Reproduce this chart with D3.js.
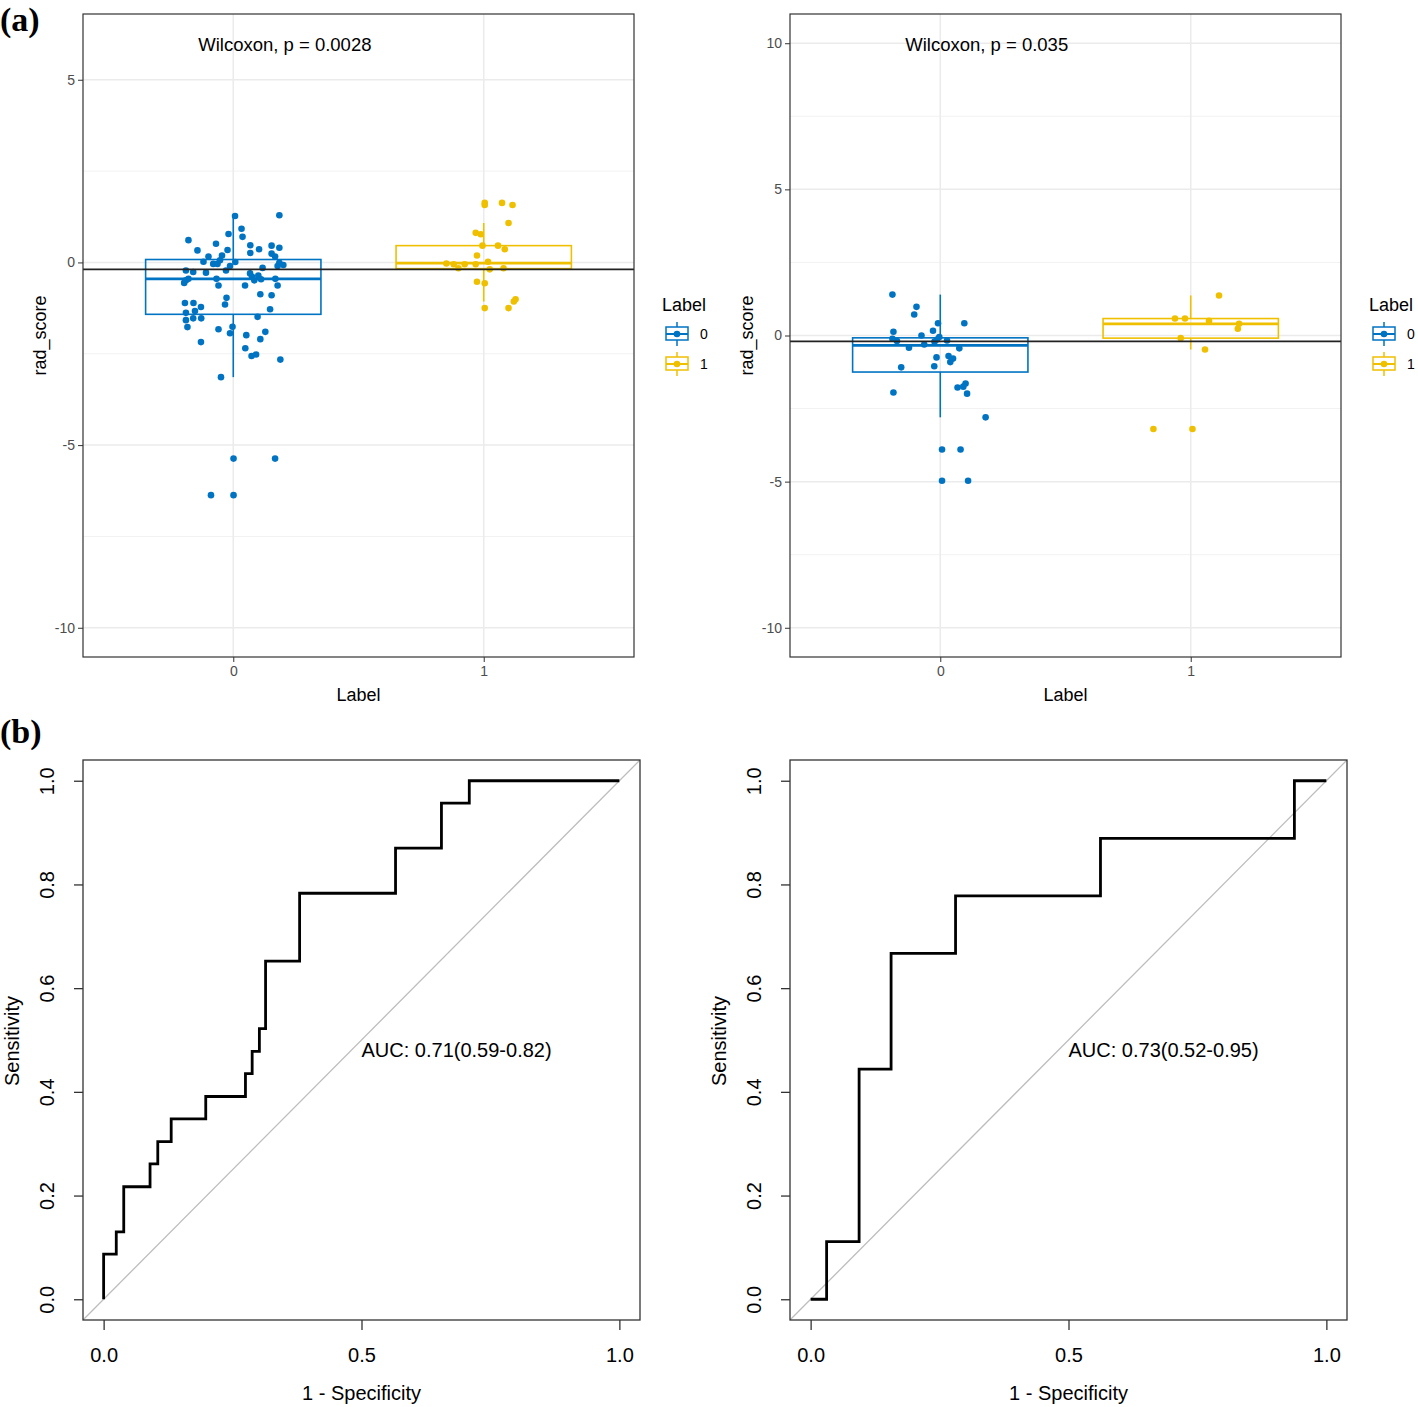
<!DOCTYPE html>
<html><head><meta charset="utf-8">
<script src="https://cdn.jsdelivr.net/npm/d3@7"></script>
<style>body{margin:0;background:#fff} svg{display:block}</style>
</head><body><svg id="c" width="1418" height="1407"></svg>
<script>
// ---------- DATA ----------
const categories = ["0", "1"];
const groupColors = ["#0073C2", "#EFC000"];

// (a) left: training set rad_score by Label
const trainG0 = [1.27,1.29,0.92,0.78,0.70,0.61,0.51,0.47,0.46,0.33,0.34,0.36,0.40,0.26,0.24,0.16,0.19,0.16,0.02,-0.04,-0.04,0.06,0.01,-0.10,-0.01,-0.07,-0.10,-0.15,-0.22,-0.26,-0.28,-0.22,-0.30,-0.39,-0.36,-0.45,-0.45,-0.49,-0.46,-0.45,-0.56,-0.63,-0.63,-0.63,-0.49,-0.87,-0.90,-0.97,-1.15,-1.11,-1.11,-1.22,-1.38,-1.33,-1.28,-1.53,-1.53,-1.58,-1.49,-1.77,-1.83,-1.76,-1.94,-1.90,-1.99,-2.18,-2.10,-2.35,-2.56,-2.52,-2.66,-3.14,-5.37,-5.37,-6.37,-6.37];
const trainG0Jitter = [0.007,0.184,0.033,-0.019,0.037,-0.179,-0.069,0.068,0.153,-0.143,-0.023,0.103,0.184,0.068,0.153,-0.099,-0.045,0.167,-0.119,-0.08,-0.063,-0.053,0.008,-0.013,0.184,0.2,0.177,0.117,-0.189,-0.16,-0.109,-0.029,0.067,0.075,0.1,-0.179,-0.067,0.084,0.111,0.168,-0.196,-0.059,0.047,0.177,-0.189,0.108,0.153,-0.027,-0.033,-0.193,-0.159,-0.129,-0.189,-0.153,0.147,-0.16,-0.128,-0.189,0.097,-0.183,-0.059,-0.003,-0.013,0.128,0.052,-0.129,0.108,0.048,0.073,0.091,0.188,-0.049,0.001,0.167,-0.089,0.001];
const trainG1 = [1.63,1.57,1.63,1.57,1.08,0.81,0.77,0.46,0.46,0.36,0.19,-0.03,-0.05,-0.16,-0.05,-0.05,0.02,-0.19,-0.16,-0.53,-0.57,-1.01,-1.07,-1.25,-1.25];
const trainG1Jitter = [0.004,0.004,0.073,0.115,0.099,-0.032,-0.012,-0.005,0.057,0.084,-0.027,-0.149,-0.12,-0.101,-0.076,-0.032,0.017,0.024,0.079,-0.027,0.004,0.127,0.12,0.004,0.099];
const trainBoxQ1 = [-1.42, -0.17];
const trainBoxMedian = [-0.45, -0.02];
const trainBoxQ3 = [0.08, 0.46];
const trainBoxLow = [-3.14, -1.07];
const trainBoxHigh = [1.27, 1.08];
const trainCutoff = -0.19;
const trainYTicks = [-10, -5, 0, 5];
const trainYMinor = [-7.5, -2.5, 2.5];
const trainPLabel = "Wilcoxon, p = 0.0028";

// (a) right: test set
const testG0 = [1.40,0.98,0.72,0.42,0.42,0.13,0.16,0.00,-0.05,-0.11,-0.19,-0.14,-0.21,-0.17,-0.31,-0.42,-0.44,-0.75,-0.70,-0.79,-0.91,-1.09,-1.05,-1.64,-1.78,-1.75,-1.99,-1.95,-2.80,-3.90,-3.90,-4.97,-4.97];
const testG0Jitter = [-0.191,-0.095,-0.104,-0.009,0.096,-0.187,-0.029,-0.075,-0.004,-0.191,-0.173,-0.013,-0.023,0.027,-0.064,-0.125,0.076,-0.015,0.033,0.051,0.04,-0.156,-0.024,0.101,0.069,0.092,0.107,-0.187,0.181,0.007,0.081,0.007,0.111];
const testG1 = [1.37,0.58,0.58,0.50,0.40,0.23,-0.09,-0.48,-3.20,-3.20];
const testG1Jitter = [0.113,-0.063,-0.023,0.073,0.193,0.188,-0.04,0.057,-0.149,0.007];
const testBoxQ1 = [-1.25, -0.09];
const testBoxMedian = [-0.34, 0.40];
const testBoxQ3 = [-0.08, 0.58];
const testBoxLow = [-2.80, -0.48];
const testBoxHigh = [1.40, 1.37];
const testCutoff = -0.20;
const testYTicks = [-10, -5, 0, 5, 10];
const testYMinor = [-7.5, -2.5, 2.5, 7.5];
const testPLabel = "Wilcoxon, p = 0.035";

// (b) ROC curves (1 - specificity, sensitivity) step corners
const rocTrainFpr = [0,0,0.0245,0.039,0.090,0.105,0.131,0.198,0.275,0.288,0.302,0.314,0.380,0.566,0.655,0.709,1];
const rocTrainTpr = [0,0.087,0.130,0.217,0.261,0.304,0.348,0.391,0.435,0.478,0.522,0.652,0.783,0.870,0.957,1,1];
const rocTestFpr = [0,0.031,0.094,0.156,0.281,0.562,0.938,1];
const rocTestTpr = [0,0.111,0.444,0.667,0.778,0.889,1,1];
const rocTrainLabel = "AUC: 0.71(0.59-0.82)";
const rocTestLabel = "AUC: 0.73(0.52-0.95)";
const rocXTicks = [0, 0.5, 1];
const rocYTicks = [0, 0.2, 0.4, 0.6, 0.8, 1];

// ---------- DRAW ----------
const svg = d3.select("#c");
const FONT = "'Liberation Sans', Arial, Helvetica, sans-serif";
svg.append("rect").attr("width",1418).attr("height",1407).attr("fill","#fff");

function boxPanel(p) {
  const g = svg.append("g");
  const x = d3.scalePoint().domain(categories).range([p.left, p.right]).padding(0.6);
  const y = d3.scaleLinear().domain(p.domain).range([p.bottom, p.top]);
  const step = x.step();
  // background grid
  g.selectAll(".minor").data(p.minor).join("line")
    .attr("x1", p.left).attr("x2", p.right).attr("y1", d => y(d)).attr("y2", d => y(d))
    .attr("stroke", "#F2F2F2").attr("stroke-width", 1);
  g.selectAll(".major").data(p.ticks).join("line")
    .attr("x1", p.left).attr("x2", p.right).attr("y1", d => y(d)).attr("y2", d => y(d))
    .attr("stroke", "#EBEBEB").attr("stroke-width", 1.5);
  g.selectAll(".vmajor").data(categories).join("line")
    .attr("x1", d => x(d)).attr("x2", d => x(d)).attr("y1", p.top).attr("y2", p.bottom)
    .attr("stroke", "#EBEBEB").attr("stroke-width", 1.5);
  // boxes
  categories.forEach((c, i) => {
    const cx = x(c), bw = 0.7 * step, col = groupColors[i];
    g.append("line").attr("x1", cx).attr("x2", cx).attr("y1", y(p.q3[i])).attr("y2", y(p.hi[i]))
      .attr("stroke", col).attr("stroke-width", 1.6);
    g.append("line").attr("x1", cx).attr("x2", cx).attr("y1", y(p.q1[i])).attr("y2", y(p.lo[i]))
      .attr("stroke", col).attr("stroke-width", 1.6);
    g.append("rect").attr("x", cx - bw/2).attr("width", bw)
      .attr("y", y(p.q3[i])).attr("height", y(p.q1[i]) - y(p.q3[i]))
      .attr("fill", "none").attr("stroke", col).attr("stroke-width", 1.6);
    g.append("line").attr("x1", cx - bw/2).attr("x2", cx + bw/2)
      .attr("y1", y(p.med[i])).attr("y2", y(p.med[i]))
      .attr("stroke", col).attr("stroke-width", 2.8);
  });
  // points
  p.groups.forEach((gr, i) => {
    g.append("g").selectAll("circle").data(gr.vals).join("circle")
      .attr("cx", (d, k) => x(categories[i]) + gr.jit[k] * step)
      .attr("cy", d => y(d)).attr("r", 3.3).attr("fill", groupColors[i]);
  });
  // cutoff line
  g.append("line").attr("x1", p.left).attr("x2", p.right)
    .attr("y1", y(p.cutoff)).attr("y2", y(p.cutoff))
    .attr("stroke", "#222").attr("stroke-width", 1.6);
  // border
  g.append("rect").attr("x", p.left).attr("y", p.top).attr("width", p.right - p.left)
    .attr("height", p.bottom - p.top).attr("fill", "none").attr("stroke", "#333").attr("stroke-width", 1.2);
  // axes
  const ya = g.append("g").attr("transform", `translate(${p.left},0)`)
    .call(d3.axisLeft(y).tickValues(p.ticks).tickSize(5).tickPadding(3).tickFormat(d => String(d)));
  ya.select(".domain").remove();
  ya.selectAll("line").attr("stroke", "#333");
  ya.selectAll("text").attr("fill", "#4D4D4D").style("font", `14px ${FONT}`);
  const xa = g.append("g").attr("transform", `translate(0,${p.bottom})`)
    .call(d3.axisBottom(x).tickSize(5).tickPadding(4));
  xa.select(".domain").remove();
  xa.selectAll("line").attr("stroke", "#333");
  xa.selectAll("text").attr("fill", "#4D4D4D").style("font", `14px ${FONT}`);
  // titles
  g.append("text").attr("x", (p.left + p.right) / 2).attr("y", p.bottom + 44)
    .attr("text-anchor", "middle").style("font", `18px ${FONT}`).attr("fill", "#000").text("Label");
  g.append("text").attr("transform", `translate(${p.left - 37},${(p.top + p.bottom) / 2}) rotate(-90)`)
    .attr("text-anchor", "middle").style("font", `18px ${FONT}`).attr("fill", "#000").text("rad_score");
  // p-value
  g.append("text").attr("x", x(categories[0]) - 0.14 * step).attr("y", y(p.domain[1]) + 37)
    .style("font", `18.5px ${FONT}`).attr("fill", "#000").text(p.pLabel);
  // legend
  const lg = g.append("g").attr("transform", `translate(${p.right + 28},0)`);
  lg.append("text").attr("x", 0).attr("y", 311).style("font", `18px ${FONT}`).attr("fill", "#000").text("Label");
  categories.forEach((c, i) => {
    const cy = 334 + 30 * i, col = groupColors[i];
    lg.append("line").attr("x1", 15).attr("x2", 15).attr("y1", cy - 12).attr("y2", cy + 12)
      .attr("stroke", col).attr("stroke-width", 1.5);
    lg.append("rect").attr("x", 4).attr("y", cy - 7).attr("width", 22).attr("height", 13)
      .attr("fill", "#fff").attr("stroke", col).attr("stroke-width", 1.5);
    lg.append("line").attr("x1", 4).attr("x2", 26).attr("y1", cy).attr("y2", cy)
      .attr("stroke", col).attr("stroke-width", 2);
    lg.append("circle").attr("cx", 15).attr("cy", cy).attr("r", 3.3).attr("fill", col);
    lg.append("text").attr("x", 38).attr("y", cy + 5).style("font", `14px ${FONT}`).attr("fill", "#000").text(c);
  });
}

boxPanel({left: 83, right: 634, top: 14, bottom: 657, domain: [-10.8, 6.8],
  ticks: trainYTicks, minor: trainYMinor,
  groups: [{vals: trainG0, jit: trainG0Jitter}, {vals: trainG1, jit: trainG1Jitter}],
  q1: trainBoxQ1, med: trainBoxMedian, q3: trainBoxQ3, lo: trainBoxLow, hi: trainBoxHigh,
  cutoff: trainCutoff, pLabel: trainPLabel});
boxPanel({left: 790, right: 1341, top: 14, bottom: 657, domain: [-11, 11],
  ticks: testYTicks, minor: testYMinor,
  groups: [{vals: testG0, jit: testG0Jitter}, {vals: testG1, jit: testG1Jitter}],
  q1: testBoxQ1, med: testBoxMedian, q3: testBoxQ3, lo: testBoxLow, hi: testBoxHigh,
  cutoff: testCutoff, pLabel: testPLabel});

function rocPanel(p) {
  const g = svg.append("g");
  const x = d3.scaleLinear().domain([-0.04, 1.04]).range([p.left, p.right]);
  const y = d3.scaleLinear().domain([-0.04, 1.04]).range([p.bottom, p.top]);
  const clipId = "clip" + p.left;
  svg.append("clipPath").attr("id", clipId).append("rect")
    .attr("x", p.left).attr("y", p.top).attr("width", p.right - p.left).attr("height", p.bottom - p.top);
  g.append("line").attr("x1", x(-0.04)).attr("y1", y(-0.04)).attr("x2", x(1.04)).attr("y2", y(1.04))
    .attr("stroke", "#BDBDBD").attr("stroke-width", 1.3).attr("clip-path", `url(#${clipId})`);
  const pts = p.fpr.map((f, i) => [f, p.tpr[i]]);
  g.append("path").datum(pts)
    .attr("d", d3.line().x(d => x(d[0])).y(d => y(d[1])).curve(d3.curveStepAfter))
    .attr("fill", "none").attr("stroke", "#000").attr("stroke-width", 2.8);
  g.append("rect").attr("x", p.left).attr("y", p.top).attr("width", p.right - p.left)
    .attr("height", p.bottom - p.top).attr("fill", "none").attr("stroke", "#333").attr("stroke-width", 1.3);
  const xa = g.append("g").attr("transform", `translate(0,${p.bottom})`)
    .call(d3.axisBottom(x).tickValues(rocXTicks).tickSize(10).tickPadding(18).tickFormat(d3.format(".1f")));
  xa.select(".domain").remove();
  xa.selectAll("line").attr("stroke", "#333").attr("stroke-width", 1.3);
  xa.selectAll("text").attr("fill", "#000").style("font", `20px ${FONT}`);
  const ya = g.append("g").attr("transform", `translate(${p.left},0)`)
    .call(d3.axisLeft(y).tickValues(rocYTicks).tickSize(9).tickFormat(d3.format(".1f")));
  ya.select(".domain").remove();
  ya.selectAll("line").attr("stroke", "#333").attr("stroke-width", 1.3);
  ya.selectAll("text").attr("fill", "#000").style("font", `20px ${FONT}`)
    .attr("x", null).attr("dy", null).attr("text-anchor", "middle")
    .attr("transform", "translate(-29,0) rotate(-90)");
  g.append("text").attr("x", x(0.5)).attr("y", p.bottom + 80).attr("text-anchor", "middle")
    .style("font", `20px ${FONT}`).attr("fill", "#000").text("1 - Specificity");
  g.append("text").attr("transform", `translate(${p.left - 64},${y(0.5) + 1}) rotate(-90)`)
    .attr("text-anchor", "middle").style("font", `20px ${FONT}`).attr("fill", "#000").text("Sensitivity");
  g.append("text").attr("x", x(0.5)).attr("y", y(0.5) + 17)
    .style("font", `20px ${FONT}`).attr("fill", "#000").text(p.label);
}

rocPanel({left: 83, right: 640, top: 760, bottom: 1320, fpr: rocTrainFpr, tpr: rocTrainTpr, label: rocTrainLabel});
rocPanel({left: 790, right: 1347, top: 760, bottom: 1320, fpr: rocTestFpr, tpr: rocTestTpr, label: rocTestLabel});

svg.append("text").attr("x", 0).attr("y", 31).style("font", "bold 34px 'Liberation Serif', 'Times New Roman', serif").text("(a)");
svg.append("text").attr("x", 0).attr("y", 743).style("font", "bold 34px 'Liberation Serif', 'Times New Roman', serif").text("(b)");
</script></body></html>
